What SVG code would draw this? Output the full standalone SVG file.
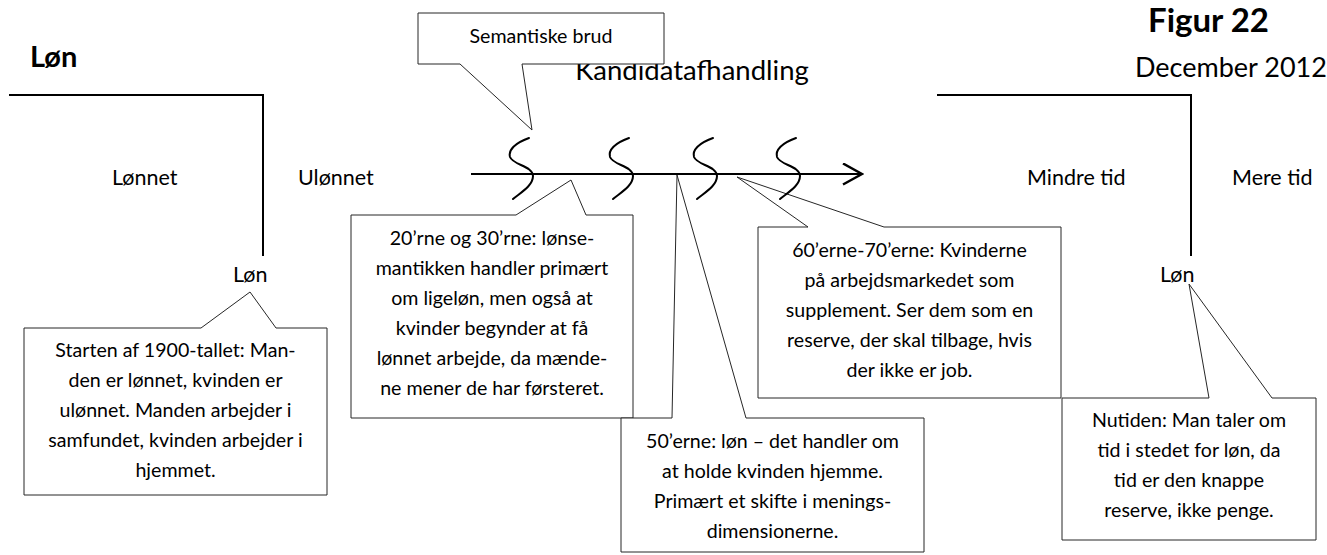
<svg xmlns="http://www.w3.org/2000/svg" xmlns:xlink="http://www.w3.org/1999/xlink" width="1327" height="555" viewBox="0 0 1327 555">
<style>
text{font-family:Lato,"Open Sans","Liberation Sans",sans-serif;fill:#000}
.hb{font-weight:bold}
.lbl{font-size:21.5px}
.bx{font-size:19.6px;text-anchor:middle}
.co{fill:#fff;stroke:#262626;stroke-width:1}
.ln{fill:none;stroke:#000;stroke-width:2}
.sq{fill:none;stroke:#000;stroke-width:2;stroke-linecap:round}
</style>
<defs>
<marker id="arr" viewBox="0 0 22 23" refX="20" refY="11.5" markerWidth="22" markerHeight="23" markerUnits="userSpaceOnUse" orient="auto">
<path d="M1,1 L20,11.5 L1,22" fill="none" stroke="#000" stroke-width="2.5"/>
</marker>
<path id="squig" d="M0,0 C-14,5 -21,12 -19,19 C-16,27 4,28 4,38 C4,48 -9,55 -16,61"/>
</defs>
<rect width="1327" height="555" fill="#fff"/>

<g id="header">
<text class="hb" x="30" y="67" font-size="29">Løn</text>
<text class="hb" x="1148" y="32" font-size="33">Figur 22</text>
<text x="1135" y="77" font-size="27">December 2012</text>
<text x="692" y="80" font-size="27.5" text-anchor="middle">Kandidatafhandling</text>
</g>

<g id="labels">
<text class="lbl" x="112" y="185">Lønnet</text>
<text class="lbl" x="298" y="185">Ulønnet</text>
<text class="lbl" x="1027" y="185">Mindre tid</text>
<text class="lbl" x="1232" y="185">Mere tid</text>
<text class="lbl" x="233" y="282">Løn</text>
<text class="lbl" x="1160" y="282">Løn</text>
</g>

<g id="semantiske-brud">
<path class="co" d="M418,13 H664 V64 H522 L532,130 L460,64 H418 Z"/>
<text class="bx" x="541" y="43" font-size="19px">Semantiske brud</text>
</g>

<g id="starten">
<path class="co" d="M24,328 H201 L250,292 L276,328 H327 V495 H24 Z"/>
<text class="bx" x="175.5" y="357">Starten af 1900-tallet: Man-</text>
<text class="bx" x="175.5" y="387">den er lønnet, kvinden er</text>
<text class="bx" x="175.5" y="417">ulønnet. Manden arbejder i</text>
<text class="bx" x="175.5" y="447">samfundet, kvinden arbejder i</text>
<text class="bx" x="175.5" y="477">hjemmet.</text>
</g>

<g id="tyverne">
<path class="co" d="M351,215 H516 L571,180 L586,215 H633 V418 H351 Z"/>
<text class="bx" x="492" y="245">20’rne og 30’rne: lønse-</text>
<text class="bx" x="492" y="275">mantikken handler primært</text>
<text class="bx" x="492" y="305">om ligeløn, men også at</text>
<text class="bx" x="492" y="335">kvinder begynder at få</text>
<text class="bx" x="492" y="365">lønnet arbejde, da mænde-</text>
<text class="bx" x="492" y="395">ne mener de har førsteret.</text>
</g>

<g id="halvtredserne">
<path class="co" d="M621,418 H672 L677,175 L746,418 H924 V552 H621 Z"/>
<text class="bx" x="772.5" y="448">50’erne: løn – det handler om</text>
<text class="bx" x="772.5" y="478">at holde kvinden hjemme.</text>
<text class="bx" x="772.5" y="508">Primært et skifte i menings-</text>
<text class="bx" x="772.5" y="538">dimensionerne.</text>
</g>

<g id="tresserne">
<path class="co" d="M758,227 H808 L737,177 L884,227 H1061 V398 H758 Z"/>
<text class="bx" x="909.5" y="257">60’erne-70’erne: Kvinderne</text>
<text class="bx" x="909.5" y="287">på arbejdsmarkedet som</text>
<text class="bx" x="909.5" y="317">supplement. Ser dem som en</text>
<text class="bx" x="909.5" y="347">reserve, der skal tilbage, hvis</text>
<text class="bx" x="909.5" y="377">der ikke er job.</text>
</g>

<g id="nutiden">
<path class="co" d="M1062,398 H1209 L1189,284 L1272,398 H1316 V540 H1062 Z"/>
<text class="bx" x="1189" y="427">Nutiden: Man taler om</text>
<text class="bx" x="1189" y="457">tid i stedet for løn, da</text>
<text class="bx" x="1189" y="487">tid er den knappe</text>
<text class="bx" x="1189" y="517">reserve, ikke penge.</text>
</g>

<g id="connectors">
<path class="ln" d="M9,95 H263 V256"/>
<path class="ln" d="M937,95 H1191 V256"/>
<line class="ln" x1="471" y1="174" x2="862" y2="174" marker-end="url(#arr)"/>
<use href="#squig" xlink:href="#squig" class="sq" x="529" y="138"/>
<use href="#squig" xlink:href="#squig" class="sq" x="629" y="138"/>
<use href="#squig" xlink:href="#squig" class="sq" x="713" y="138"/>
<use href="#squig" xlink:href="#squig" class="sq" x="796" y="138"/>
</g>
</svg>
